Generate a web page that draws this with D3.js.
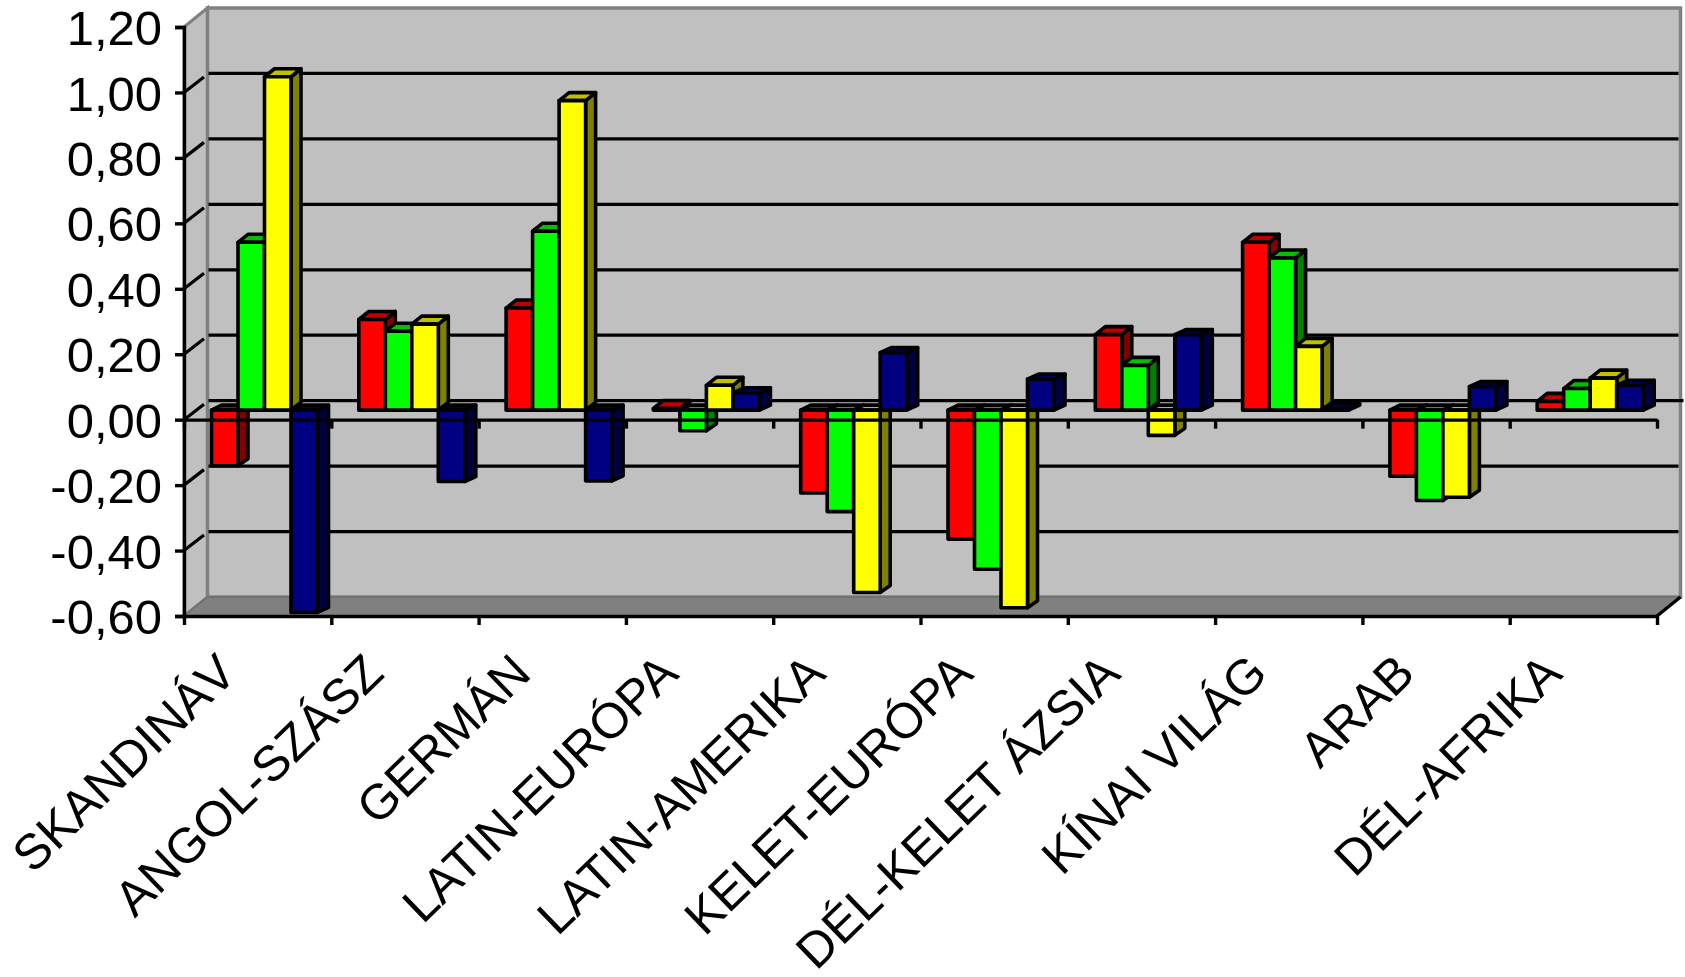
<!DOCTYPE html>
<html>
<head>
<meta charset="utf-8">
<script src="https://cdn.jsdelivr.net/npm/d3@7"></script>
<style>
body { margin: 0; background: #fff; }
text { font-family: "Liberation Sans", Arial, sans-serif; fill: #000; }
</style>
</head>
<body>
<script>
const categories = ["SKANDINÁV", "ANGOL-SZÁSZ", "GERMÁN", "LATIN-EURÓPA", "LATIN-AMERIKA",
	"KELET-EURÓPA", "DÉL-KELET ÁZSIA", "KÍNAI VILÁG", "ARAB", "DÉL-AFRIKA"];
const seriesNames = ["a", "b", "c", "d"];
const seriesA = [-0.17, 0.277, 0.312, 0.005, -0.253, -0.394, 0.231, 0.513, -0.202, 0.027];
const seriesB = [0.513, 0.241, 0.547, -0.063, -0.31, -0.486, 0.137, 0.465, -0.276, 0.066];
const seriesC = [1.019, 0.263, 0.946, 0.076, -0.557, -0.604, -0.077, 0.195, -0.266, 0.098];
const seriesD = [-0.618, -0.218, -0.216, 0.053, 0.176, 0.095, 0.231, 0.005, 0.072, 0.076];
const yTicks = [-0.6, -0.4, -0.2, 0, 0.2, 0.4, 0.6, 0.8, 1, 1.2];
const fronts = ["#ff0000", "#00ff00", "#ffff00", "#000080"];
const sides = ["#800000", "#008000", "#808000", "#000040"];
const tops = ["#c00000", "#00c000", "#c0c000", "#000060"];

const allSeries = [seriesA, seriesB, seriesC, seriesD];

const width = 1685, height = 977;
const left = 184, right = 1657, floorY = 616, topY = 27;
const wallDx = 23.5, wallDy = 19;
const barShift = 9.5; // bars stand halfway between the front edge and the back wall

const svg = d3.select("body").append("svg")
	.attr("width", width)
	.attr("height", height)
	.style("display", "block");

const y = d3.scaleLinear().domain([-0.6, 1.2]).range([floorY, topY]);
const x = d3.scaleBand().domain(categories).range([left, right]);
const xBar = d3.scaleBand().domain(seriesNames).range([27.5, 133.5]);
const xEdge = d3.scaleLinear().domain([0, 10]).range([left, right]);

// walls and floor
const wall = svg.append("g");
wall.append("polygon")
	.attr("points", [[left, topY], [left + wallDx, topY - wallDy], [left + wallDx, floorY - wallDy], [left, floorY]].join(" "))
	.attr("fill", "#c0c0c0")
	.attr("stroke", "#808080")
	.attr("stroke-width", 3);
wall.append("rect")
	.attr("x", left + wallDx)
	.attr("y", topY - wallDy)
	.attr("width", right - left)
	.attr("height", floorY - topY)
	.attr("fill", "#c0c0c0")
	.attr("stroke", "#808080")
	.attr("stroke-width", 3.5);
wall.append("polygon")
	.attr("points", [[left, floorY], [left + wallDx, floorY - wallDy], [right + wallDx, floorY - wallDy], [right, floorY]].join(" "))
	.attr("fill", "#808080")
	.attr("stroke", "#6e6e6e")
	.attr("stroke-width", 1.5);

// gridlines on the back wall, and the bits running across the side wall
const inner = yTicks.slice(1, -1);
svg.append("g").selectAll("line").data(inner).join("line")
	.attr("x1", left + wallDx + 1)
	.attr("x2", d => d === 0 ? right + wallDx + 3 : right + wallDx - 2)
	.attr("y1", d => y(d) - wallDy)
	.attr("y2", d => y(d) - wallDy)
	.attr("stroke", "#000")
	.attr("stroke-width", 3.2);
svg.append("g").selectAll("line").data(inner).join("line")
	.attr("x1", left)
	.attr("x2", left + 20)
	.attr("y1", d => y(d))
	.attr("y2", d => y(d) - 15.5)
	.attr("stroke", "#000")
	.attr("stroke-width", 3.2);

function drawBar(g, v, s, cat) {
	const bw = xBar.bandwidth();
	const x0 = x(cat) + xBar(seriesNames[s]);
	const x1 = x0 + bw;
	const base = y(0) - barShift;
	const end = y(v) - barShift;
	const dx = s === 3 ? 11 : 10;
	const dy = v < 0 ? (s === 3 ? 5 : 7) : (s === 3 ? 5 : 8);
	const topEdge = Math.min(base, end);
	const botEdge = Math.max(base, end);
	const topDy = v < 0 ? 5 : dy;

	g.append("polygon")
		.attr("points", [[x1, topEdge], [x1 + dx, topEdge - topDy], [x1 + dx, botEdge - dy], [x1, botEdge]].join(" "))
		.attr("fill", sides[s]);
	g.append("polygon")
		.attr("points", [[x0, topEdge], [x0 + dx, topEdge - topDy], [x1 + dx, topEdge - topDy], [x1, topEdge]].join(" "))
		.attr("fill", tops[s]);
	g.append("rect")
		.attr("x", x0)
		.attr("y", topEdge)
		.attr("width", bw)
		.attr("height", botEdge - topEdge)
		.attr("fill", fronts[s]);
	g.selectAll("polygon,rect")
		.attr("stroke", "#000")
		.attr("stroke-width", 3.6)
		.attr("stroke-linejoin", "round");
}

const bars = svg.append("g");
categories.forEach((cat, i) => {
	allSeries.forEach((vals, s) => {
		drawBar(bars.append("g"), vals[i], s, cat);
	});
});

// axes
const locale = d3.formatLocale({ decimal: ",", thousands: " ", grouping: [3], currency: ["", ""], minus: "-" });

const yAxis = d3.axisLeft(y)
	.tickValues(yTicks)
	.tickFormat(locale.format(".2f"))
	.tickSize(9)
	.tickPadding(13);
const yg = svg.append("g")
	.attr("transform", "translate(" + left + ",0)")
	.call(yAxis);
yg.selectAll("text").attr("font-size", 49).attr("font-family", "Liberation Sans").attr("dy", "0.36em");

const edgeAxis = d3.axisBottom(xEdge).ticks(10).tickFormat("").tickSize(9).tickSizeOuter(0);
svg.append("g").attr("transform", "translate(0," + y(0) + ")").call(edgeAxis);
svg.append("g").attr("transform", "translate(0," + floorY + ")").call(edgeAxis);
svg.selectAll(".domain").attr("stroke", "#000").attr("stroke-width", 3.4);
svg.selectAll(".tick line").attr("stroke", "#000").attr("stroke-width", 3.4);

// the last diagonal at the bottom right corner
svg.append("path")
	.attr("d", d3.line()([[right, floorY], [right + wallDx, floorY - wallDy]]))
	.attr("stroke", "#000")
	.attr("stroke-width", 3.4);

const catAxis = d3.axisBottom(x).tickSize(0).tickPadding(0);
const cg = svg.append("g")
	.attr("transform", "translate(0," + floorY + ")")
	.call(catAxis);
cg.select(".domain").remove();
cg.selectAll("text")
	.attr("font-size", 49.5)
	.attr("font-family", "Liberation Sans")
	.attr("text-anchor", "end")
	.attr("dy", 0)
	.attr("y", 0)
	.attr("transform", "translate(-19,60) rotate(-44)");
</script>
</body>
</html>
